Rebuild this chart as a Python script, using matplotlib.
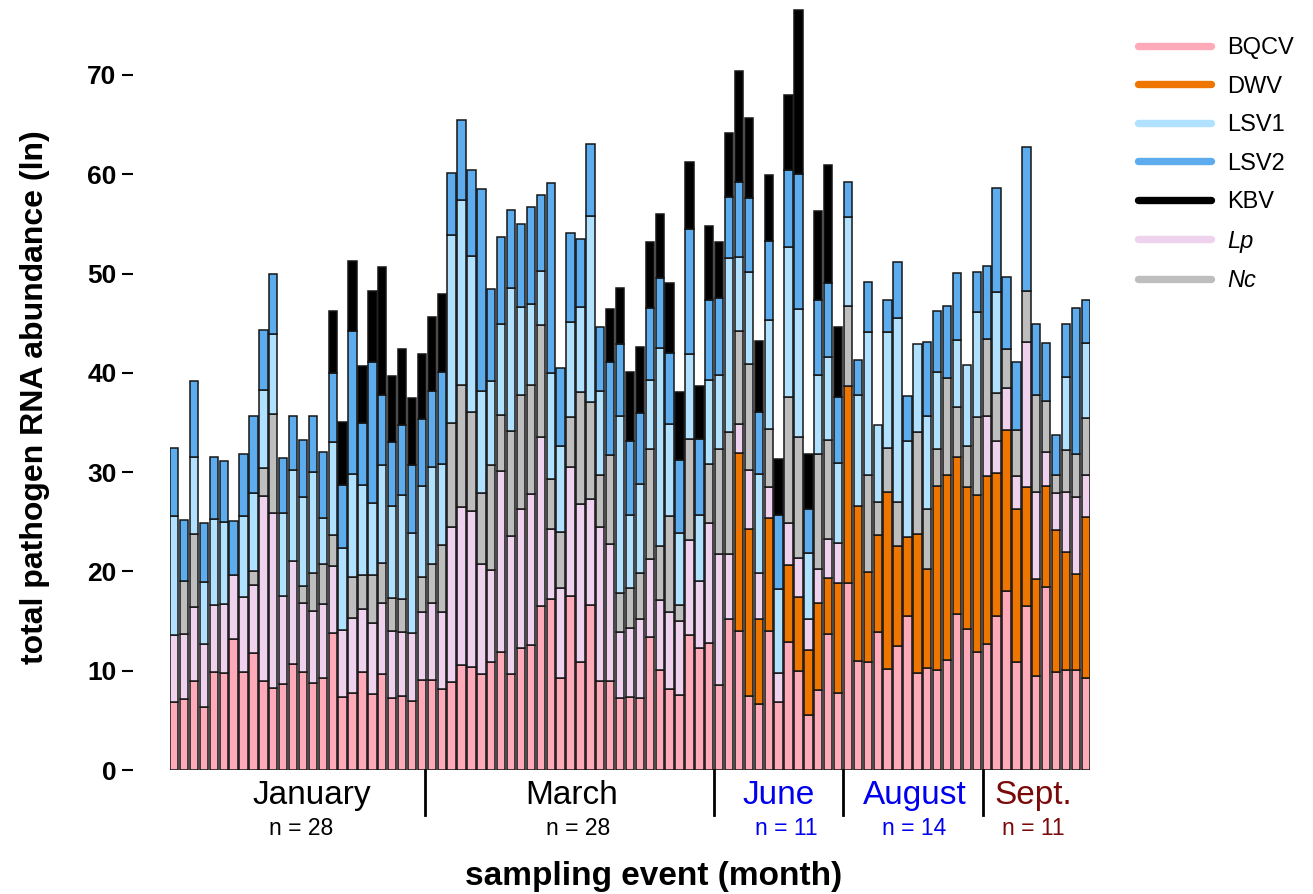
import numpy as np
import matplotlib
matplotlib.use("Agg")
import matplotlib.pyplot as plt
from matplotlib.lines import Line2D

plt.rcParams['font.family'] = ['Liberation Sans', 'DejaVu Sans']

# segment heights per sampling event (ln abundance)
bqcv = [6.8, 7.2, 9.0, 6.3, 9.9, 9.8, 13.2, 9.9, 11.8, 9.0,
        8.3, 8.7, 10.7, 9.9, 8.8, 9.3, 13.8, 7.4, 7.8, 9.9,
        7.7, 9.7, 7.3, 7.5, 6.9, 9.1, 9.1, 8.2, 8.9, 10.6,
        10.4, 9.7, 10.9, 11.9, 9.7, 12.3, 12.6, 16.5, 17.2, 9.3,
        17.5, 10.9, 16.6, 9.0, 9.0, 7.3, 7.4, 7.3, 13.4, 10.1,
        8.2, 7.6, 13.6, 12.3, 12.8, 8.6, 15.2, 14.0, 7.5, 6.6,
        14.0, 6.8, 12.9, 10.0, 5.5, 8.1, 13.7, 7.8, 18.8, 11.0,
        10.9, 13.9, 10.2, 12.5, 15.5, 9.8, 10.3, 10.1, 11.1, 15.7,
        14.2, 11.9, 12.7, 15.5, 18.0, 10.9, 16.5, 9.5, 18.4, 9.9,
        10.1, 10.1, 9.3]
dwv = [0, 0, 0, 0, 0, 0, 0, 0, 0, 0,
       0, 0, 0, 0, 0, 0, 0, 0, 0, 0,
       0, 0, 0, 0, 0, 0, 0, 0, 0, 0,
       0, 0, 0, 0, 0, 0, 0, 0, 0, 0,
       0, 0, 0, 0, 0, 0, 0, 0, 0, 0,
       0, 0, 0, 0, 0, 0, 0, 17.9, 16.8, 8.6,
       11.4, 0, 7.7, 7.4, 6.6, 8.7, 5.6, 11.0, 19.9, 15.6,
       9.0, 9.8, 17.8, 10.1, 8.0, 14.0, 9.9, 18.5, 18.6, 15.8,
       14.3, 15.8, 16.9, 14.4, 16.2, 15.4, 12.0, 9.7, 10.2, 14.3,
       11.9, 9.65, 16.2]
lp = [6.8, 6.5, 7.4, 6.4, 6.7, 6.9, 6.4, 7.5, 6.8, 18.6,
      17.6, 8.8, 10.3, 6.95, 7.25, 7.4, 6.7, 6.66, 7.55, 6.3,
      7.1, 7.15, 6.7, 6.4, 6.9, 6.8, 7.7, 7.7, 15.6, 15.9,
      15.7, 11.0, 9.2, 18.2, 13.9, 14.0, 15.2, 17.0, 7.1, 9.0,
      13.05, 15.9, 10.7, 15.5, 13.8, 6.6, 6.9, 7.9, 7.8, 7.0,
      7.7, 7.4, 9.6, 6.7, 12.1, 13.2, 6.6, 2.9, 5.9, 4.6,
      3.1, 3.0, 4.3, 4.0, 3.1, 3.4, 4.0, 4.1, 0, 0,
      0, 0, 0, 0, 0, 0, 0, 0, 0, 0,
      0, 0, 6.1, 3.2, 4.3, 3.3, 14.6, 8.8, 3.4, 3.7,
      6.0, 7.75, 4.2]
nc = [0, 5.35, 7.4, 0, 0, 0, 0, 0, 1.4, 2.8,
      10.0, 0, 0, 1.65, 3.75, 4.0, 3.2, 0, 4.05, 3.45,
      4.8, 3.95, 3.3, 3.3, 0, 3.5, 3.9, 6.8, 10.4, 12.3,
      10.0, 7.2, 10.65, 5.7, 10.5, 11.5, 11.0, 11.3, 5.0, 5.7,
      5.0, 11.3, 9.8, 5.2, 8.9, 3.9, 4.0, 4.6, 11.1, 5.5,
      9.7, 1.6, 10.1, 0, 5.9, 10.5, 12.2, 9.4, 10.7, 0,
      5.8, 0, 12.7, 12.1, 0, 11.6, 9.9, 0, 8.0, 0,
      9.8, 3.3, 4.4, 4.4, 0, 10.2, 6.1, 3.7, 9.8, 5.1,
      4.1, 7.8, 7.7, 4.9, 3.9, 4.6, 5.1, 9.8, 5.2, 1.8,
      4.2, 4.3, 5.7]
lsv1 = [12.0, 0, 7.7, 6.2, 8.7, 8.3, 0, 8.2, 7.9, 7.85,
        8.0, 8.4, 9.2, 8.95, 10.2, 4.7, 9.3, 8.34, 10.4, 9.1,
        7.3, 9.9, 9.3, 10.5, 10.1, 9.2, 9.8, 8.1, 19.0, 18.6,
        15.7, 10.3, 8.4, 9.1, 14.4, 8.8, 8.1, 5.5, 10.7, 8.6,
        9.6, 8.5, 18.7, 8.5, 0, 17.8, 7.4, 9.0, 7.0, 19.9,
        9.2, 7.3, 8.6, 6.7, 8.5, 7.5, 17.6, 7.5, 9.3, 10.0,
        11.0, 8.4, 15.1, 12.9, 6.7, 8.0, 8.4, 8.0, 9.0, 11.2,
        14.4, 7.7, 11.7, 18.5, 9.6, 8.9, 9.3, 7.8, 0, 6.7,
        8.2, 10.6, 0, 10.1, 0, 0, 0, 0, 0, 0,
        7.4, 0, 7.6]
lsv2 = [6.8, 6.15, 7.7, 5.95, 6.2, 6.15, 5.5, 6.2, 7.8, 6.05,
        6.0, 5.5, 5.5, 5.75, 5.6, 6.6, 7.0, 6.3, 14.4, 6.2,
        14.2, 7.1, 6.4, 7.0, 6.8, 6.7, 7.7, 9.3, 6.2, 8.1,
        8.6, 20.3, 9.3, 8.8, 7.9, 8.4, 9.8, 7.6, 19.1, 7.9,
        8.9, 6.9, 7.2, 6.4, 9.4, 7.3, 7.4, 7.2, 7.2, 7.0,
        7.2, 7.3, 12.6, 7.6, 8.0, 7.7, 6.1, 7.5, 7.4, 6.3,
        8.0, 7.5, 7.7, 13.6, 4.4, 7.5, 7.4, 6.7, 3.5, 3.5,
        5.0, 0, 3.2, 5.7, 4.6, 0, 7.5, 6.1, 7.2, 6.8,
        0, 4.1, 7.4, 10.5, 7.2, 6.9, 14.5, 7.1, 5.8, 4.0,
        5.3, 14.7, 4.3]
kbv = [0, 0, 0, 0, 0, 0, 0, 0, 0, 0,
       0, 0, 0, 0, 0, 0, 6.2, 6.3, 7.1, 5.7,
       7.1, 12.9, 6.7, 7.7, 6.8, 6.6, 7.4, 7.8, 0, 0,
       0, 0, 0, 0, 0, 0, 0, 0, 0, 0,
       0, 0, 0, 0, 5.3, 5.6, 7.0, 6.6, 6.7, 6.5,
       7.0, 6.9, 6.7, 5.4, 7.5, 5.7, 6.5, 11.2, 8.1, 7.1,
       6.6, 5.6, 7.6, 16.5, 5.5, 9.0, 11.9, 7.0, 0, 0,
       0, 0, 0, 0, 0, 0, 0, 0, 0, 0,
       0, 0, 0, 0, 0, 0, 0, 0, 0, 0,
       0, 0, 0]

months = ["January", "March", "June", "August", "Sept."]
month_n = ["n = 28", "n = 28", "n = 11", "n = 14", "n = 11"]
month_pos = [13.9, 40.1, 61.0, 74.7, 86.7]
n_pos = [12.8, 40.8, 61.8, 74.7, 86.7]
month_col = ["black", "black", "#0000ee", "#0000ee", "#7a0a0a"]
month_breaks = [25.3, 54.5, 67.5, 81.6]
yticks = [0, 10, 20, 30, 40, 50, 60, 70]

# stacking order bottom -> top
series = [("BQCV", bqcv, "#ffaab8"),
          ("DWV", dwv, "#ee7600"),
          ("Lp", lp, "#eed2ee"),
          ("Nc", nc, "#bebebe"),
          ("LSV1", lsv1, "#b0e2ff"),
          ("LSV2", lsv2, "#5cacee"),
          ("KBV", kbv, "black")]

fig = plt.figure(figsize=(13.13, 8.94), dpi=100)
ax = fig.add_axes([170 / 1313, 124 / 894, 920 / 1313, 764.6 / 894])

x = np.arange(len(bqcv))
bottom = np.zeros(len(x))
for name, vals, col in series:
    h = np.array(vals, dtype=float)
    lw = np.where(h > 0, 1.1, 0.0)
    ax.bar(x, h, bottom=bottom, width=0.84, color=col,
           edgecolor="#151515", linewidth=lw)
    bottom += h

# spines first: moving a spine resets the ticks
for s in ["top", "right", "bottom"]:
    ax.spines[s].set_visible(False)
ax.spines["left"].set_position(("outward", 26.6))
ax.spines["left"].set_color("none")

ax.set_xlim(-0.42, len(x) - 1 + 0.42)
ax.set_ylim(0, 77)
ax.set_xticks([])
ax.set_yticks(yticks, labels=[str(v) for v in yticks], fontsize=19, fontweight="bold")
ax.tick_params(axis="y", length=8, width=1.5, pad=4)

tr = ax.get_xaxis_transform()
for b in month_breaks:
    ax.plot([b, b], [0, -0.059], color="black", lw=2, transform=tr, clip_on=False)
for m, n, mp, npos, c in zip(months, month_n, month_pos, n_pos, month_col):
    ax.text(mp, -0.033, m, transform=tr, ha="center", va="center", fontsize=24, color=c)
    ax.text(npos, -0.076, n, transform=tr, ha="center", va="center", fontsize=16.5, color=c)

fig.text(35 / 1313, 1 - 397 / 894, "total pathogen RNA abundance (ln)", rotation=90,
         ha="center", va="center", fontsize=23, fontweight="bold")
fig.text(654 / 1313, 1 - 876 / 894, "sampling event (month)",
         ha="center", va="center", fontsize=24, fontweight="bold")

leg_order = ["BQCV", "DWV", "LSV1", "LSV2", "KBV", "Lp", "Nc"]
cols = {name: col for name, vals, col in series}
handles = [Line2D([0], [0], color=cols[n], lw=5.3, solid_capstyle="round") for n in leg_order]
leg = fig.legend(handles, leg_order, loc="upper left", bbox_to_anchor=(1138 / 1313, 1 - 37 / 894),
                 frameon=False, fontsize=17, handlelength=3.1, handletextpad=0.68,
                 labelspacing=0.7, borderpad=0, borderaxespad=0)
for t in leg.get_texts():
    if t.get_text() in ("Lp", "Nc"):
        t.set_fontstyle("italic")

fig.savefig("out.png", dpi=100)
